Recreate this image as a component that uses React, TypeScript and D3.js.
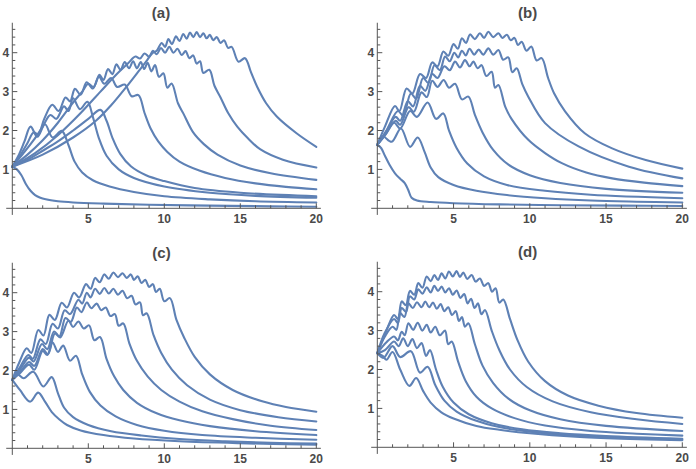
import React from "react";
import * as d3 from "d3";

type Pt = [number, number];

// panel (a): curves, [t, value]
const curvesA: Pt[][] = [
  [[0,1.07],[0.3,1.0],[0.6,0.85],[0.9,0.62],[1.2,0.45],[1.5,0.34],[1.8,0.28],[2.2,0.23],[3,0.18],[4,0.15],[6,0.12],[9,0.09],[13,0.07],[17,0.05],[20,0.04]],
  [[0,1.07],[0.4,1.35],[0.8,1.72],[1.2,2.1],[1.65,1.84],[2.15,2.16],[2.65,1.82],[3.25,1.99],[3.7,1.62],[4.1,1.2],[4.6,0.92],[5.3,0.72],[6.4,0.56],[8,0.42],[10,0.31],[13,0.23],[16,0.18],[20,0.15]],
  [[0,1.07],[0.7,1.4],[1.4,1.75],[2.0,2.1],[2.5,2.4],[2.9,2.3],[3.4,2.62],[3.7,2.5],[4.0,2.83],[4.45,2.55],[4.94,2.74],[5.3,2.35],[5.7,1.8],[6.2,1.35],[7,1.0],[8,0.78],[10,0.56],[13,0.4],[16,0.32],[20,0.27]],
  [[0,1.07],[1,1.25],[2,1.48],[3,1.72],[4,2.0],[5,2.3],[5.8,2.53],[6.2,2.25],[6.6,1.8],[7.1,1.4],[7.8,1.08],[8.8,0.85],[10,0.7],[12,0.52],[15,0.4],[20,0.31]],
  [[0,1.07],[0.5,1.35],[1.0,1.68],[1.4,1.95],[1.7,1.9],[2.1,2.3],[2.63,2.66],[3.05,2.5],[3.5,2.85],[3.8,2.75],[4.12,3.07],[4.5,2.92],[4.89,3.24],[5.3,3.08],[5.7,3.38],[6.05,3.2],[6.5,3.35],[6.9,3.12],[7.4,3.18],[7.85,2.88],[8.3,2.91],[8.7,2.45],[9.1,2.05],[9.6,1.72],[10.2,1.45],[11,1.2],[12.3,0.97],[14,0.78],[16,0.64],[18,0.55],[20,0.49]],
  [[0,1.07],[1,1.38],[2,1.75],[3,2.2],[4,2.72],[4.6,3.0],[5.0,3.2],[5.35,3.12],[5.73,3.43],[6.0,3.3],[6.3,3.58],[6.58,3.45],[6.85,3.7],[7.12,3.56],[7.4,3.76],[7.68,3.6],[7.95,3.78],[8.2,3.6],[8.45,3.76],[8.68,3.58],[8.9,3.74],[9.15,3.52],[9.39,3.68],[9.65,3.38],[9.94,3.47],[10.2,3.1],[10.48,3.21],[10.9,2.7],[11.25,2.44],[11.9,1.95],[12.6,1.65],[13.5,1.38],[15,1.1],[17,0.9],[20,0.73]],
  [[0,1.07],[1.5,1.42],[3,1.88],[4.5,2.45],[5.8,3.0],[6.8,3.42],[7.6,3.72],[8.1,3.9],[8.4,3.85],[8.7,3.98],[9.0,3.9],[9.25,4.05],[9.5,3.96],[9.78,4.12],[10.05,4.0],[10.33,4.15],[10.6,4.0],[10.87,4.1],[11.14,3.94],[11.4,4.04],[11.65,3.86],[11.9,3.93],[12.13,3.72],[12.35,3.78],[12.57,3.48],[12.96,3.56],[13.3,3.15],[13.7,2.85],[14.2,2.45],[14.8,2.1],[15.5,1.8],[16.3,1.52],[17.8,1.25],[20,1.05]],
  [[0,1.07],[2,1.38],[4,1.82],[5.5,2.25],[6.5,2.65],[7.5,3.12],[8.3,3.52],[8.8,3.77],[9.2,3.98],[9.5,4.05],[9.83,4.25],[10.05,4.15],[10.27,4.35],[10.5,4.22],[10.77,4.42],[11.0,4.3],[11.25,4.48],[11.47,4.36],[11.69,4.52],[11.91,4.4],[12.13,4.53],[12.35,4.4],[12.57,4.5],[12.78,4.37],[13.0,4.46],[13.22,4.32],[13.45,4.4],[13.7,4.25],[13.93,4.32],[14.2,4.12],[14.43,4.15],[14.88,3.77],[15.31,3.86],[15.7,3.5],[16.1,3.13],[16.7,2.7],[17.4,2.36],[18.7,1.93],[20,1.58]],
];

// panel (b)
const curvesB: Pt[][] = [
  [[0,1.63],[0.25,1.55],[0.5,1.35],[0.8,1.12],[1.16,0.9],[1.5,0.76],[1.8,0.65],[2.03,0.47],[2.25,0.27],[2.6,0.2],[3.5,0.16],[5,0.13],[8,0.1],[12,0.08],[16,0.07],[20,0.06]],
  [[0,1.63],[0.35,1.85],[0.94,1.71],[1.55,2.05],[2.15,1.58],[2.65,1.82],[3.1,1.45],[3.5,1.05],[4,0.8],[5,0.6],[6.5,0.45],[8.5,0.34],[11,0.26],[14,0.2],[17,0.17],[20,0.15]],
  [[0,1.63],[0.5,1.88],[1.1,2.2],[1.5,2.05],[2.15,2.5],[2.6,2.35],[3.3,2.72],[3.85,2.3],[4.33,2.44],[4.7,2.0],[5.2,1.55],[5.9,1.15],[7,0.82],[8.5,0.6],[11,0.45],[14,0.35],[20,0.26]],
  [[0,1.63],[0.55,1.9],[1.2,2.25],[1.5,2.15],[2.05,2.6],[2.4,2.48],[2.9,2.98],[3.25,2.86],[3.6,3.28],[3.95,3.12],[4.35,3.3],[4.7,3.1],[5.1,3.2],[5.55,2.8],[5.97,2.87],[6.4,2.4],[6.9,1.95],[7.6,1.5],[8.6,1.12],[10,0.85],[12,0.65],[15,0.5],[20,0.4]],
  [[0,1.63],[0.55,1.95],[1.2,2.35],[1.5,2.25],[2.0,2.75],[2.35,2.62],[2.8,3.15],[3.15,3.02],[3.6,3.45],[3.95,3.35],[4.4,3.65],[4.75,3.55],[5.1,3.77],[5.42,3.62],[5.75,3.81],[6.05,3.65],[6.3,3.77],[6.58,3.6],[6.84,3.68],[7.15,3.4],[7.5,3.51],[7.72,3.1],[7.94,3.17],[8.4,2.6],[8.8,2.3],[9.9,1.76],[11,1.42],[12.1,1.16],[13.7,0.92],[15.4,0.77],[17.5,0.66],[20,0.57]],
  [[0,1.63],[0.6,2.0],[1.35,2.5],[1.7,2.38],[2.2,2.95],[2.55,2.82],[3.0,3.35],[3.35,3.22],[3.75,3.68],[4.1,3.55],[4.45,3.9],[4.75,3.78],[5.05,4.0],[5.3,3.88],[5.55,4.05],[5.8,3.93],[6.05,4.1],[6.35,3.95],[6.65,4.08],[6.95,3.95],[7.28,4.11],[7.6,3.95],[7.94,4.07],[8.25,3.82],[8.59,3.88],[8.85,3.5],[9.14,3.6],[9.5,3.2],[9.9,2.87],[11.0,2.19],[13.2,1.59],[16.5,1.07],[20,0.77]],
  [[0,1.63],[0.5,2.1],[1.16,2.63],[1.45,2.5],[1.92,3.08],[2.3,2.95],[2.8,3.45],[3.2,3.35],[3.6,3.75],[3.95,3.65],[4.33,4.03],[4.65,3.92],[5.0,4.22],[5.28,4.1],[5.55,4.37],[5.82,4.25],[6.08,4.47],[6.4,4.35],[6.73,4.5],[7.0,4.38],[7.28,4.54],[7.6,4.4],[7.94,4.5],[8.2,4.38],[8.5,4.46],[8.75,4.32],[9.0,4.38],[9.22,4.2],[9.47,4.28],[9.78,4.05],[10.1,4.16],[10.45,3.8],[10.78,3.86],[11.2,3.35],[11.6,2.95],[12.3,2.5],[13.6,1.93],[15.4,1.54],[17.6,1.24],[20,1.02]],
];

// panel (c)
const curvesC: Pt[][] = [
  [[0,1.76],[0.5,1.5],[1.17,1.2],[1.7,1.43],[2.15,1.2],[2.6,0.93],[3.1,0.74],[3.6,0.6],[4.5,0.46],[6,0.34],[8,0.25],[11,0.18],[15,0.13],[20,0.09]],
  [[0,1.76],[0.35,1.9],[0.75,1.8],[1.38,1.97],[2.04,1.59],[2.59,1.83],[3.0,1.42],[3.4,1.05],[4,0.8],[5,0.6],[6.5,0.44],[8.5,0.33],[11,0.24],[14,0.18],[17,0.14],[20,0.12]],
  [[0,1.76],[0.55,1.95],[1.1,2.15],[1.45,2.02],[2.0,2.5],[2.3,2.4],[2.65,2.72],[3.0,2.48],[3.35,2.64],[3.8,2.25],[4.19,2.38],[4.6,1.9],[5.1,1.45],[5.8,1.1],[6.8,0.82],[8.2,0.6],[10,0.45],[12.5,0.34],[16,0.27],[20,0.22]],
  [[0,1.76],[0.55,1.98],[1.1,2.22],[1.45,2.12],[2.0,2.55],[2.35,2.42],[2.8,2.95],[3.15,2.85],[3.69,3.28],[4.0,3.12],[4.35,3.26],[4.7,3.08],[5.05,3.16],[5.4,2.78],[5.77,2.86],[6.2,2.3],[6.7,1.85],[7.3,1.5],[8.2,1.17],[9.5,0.9],[11,0.72],[13,0.57],[16,0.44],[20,0.34]],
  [[0,1.76],[0.55,2.05],[1.1,2.33],[1.4,2.23],[1.95,2.68],[2.3,2.55],[2.75,3.0],[3.1,2.88],[3.5,3.35],[3.85,3.25],[4.25,3.62],[4.55,3.5],[4.9,3.75],[5.2,3.6],[5.55,3.72],[5.85,3.55],[6.15,3.62],[6.45,3.4],[6.75,3.45],[7.0,3.15],[7.3,3.21],[7.7,2.7],[8.2,2.25],[8.9,1.85],[9.8,1.5],[11,1.2],[12.5,0.95],[14.5,0.75],[17,0.58],[20,0.47]],
  [[0,1.76],[0.5,2.08],[1.05,2.4],[1.35,2.3],[1.85,2.8],[2.2,2.68],[2.65,3.2],[3.0,3.08],[3.45,3.55],[3.8,3.45],[4.35,3.82],[4.6,3.72],[4.9,4.0],[5.15,3.88],[5.45,4.1],[5.75,3.97],[6.05,4.12],[6.35,3.98],[6.65,4.1],[6.95,3.95],[7.25,4.05],[7.55,3.86],[7.85,3.92],[8.1,3.7],[8.4,3.75],[8.6,3.42],[8.84,3.47],[9.3,2.9],[9.8,2.45],[10.5,2.02],[11.5,1.62],[13,1.25],[15,0.98],[17.5,0.8],[20,0.69]],
  [[0,1.76],[0.45,2.2],[0.95,2.57],[1.25,2.45],[1.71,3.04],[2.05,2.9],[2.44,3.43],[2.8,3.3],[3.25,3.74],[3.6,3.62],[4.06,4.0],[4.4,3.88],[4.85,4.22],[5.15,4.1],[5.45,4.38],[5.75,4.27],[6.05,4.47],[6.35,4.36],[6.65,4.52],[6.95,4.4],[7.25,4.5],[7.52,4.38],[7.8,4.47],[8.0,4.33],[8.25,4.42],[8.5,4.25],[8.75,4.33],[9.0,4.15],[9.25,4.22],[9.45,4.02],[9.7,4.1],[10.0,3.78],[10.37,3.86],[10.8,3.3],[11.3,2.85],[12,2.35],[13,1.9],[14.5,1.5],[16.5,1.2],[18,1.06],[20,0.94]],
];

// panel (d)
const curvesD: Pt[][] = [
  [[0,2.42],[0.35,2.35],[0.6,2.25],[1.0,2.45],[1.5,2.0],[2.1,1.58],[2.55,1.78],[3.0,1.45],[3.5,1.15],[4.2,0.9],[5,0.74],[6.5,0.55],[8,0.45],[10,0.36],[13,0.27],[16,0.22],[20,0.18]],
  [[0,2.42],[0.4,2.3],[1.0,2.6],[1.5,2.32],[2.2,2.47],[2.8,1.92],[3.3,2.07],[3.8,1.6],[4.4,1.2],[5.2,0.92],[6.5,0.68],[8,0.52],[10,0.4],[13,0.3],[16,0.25],[20,0.2]],
  [[0,2.42],[0.5,2.5],[1.1,2.72],[1.4,2.6],[1.7,2.8],[2.0,2.6],[2.3,2.78],[2.6,2.55],[2.9,2.68],[3.2,2.35],[3.45,2.5],[3.85,2.0],[4.3,1.55],[5,1.15],[6,0.85],[7.5,0.62],[9.5,0.46],[12,0.36],[15,0.29],[20,0.22]],
  [[0,2.42],[0.6,2.7],[1.1,2.85],[1.35,2.75],[1.6,2.97],[1.8,2.88],[2.04,3.19],[2.35,3.02],[2.65,3.2],[2.95,3.0],[3.24,3.15],[3.5,2.95],[3.8,3.1],[4.1,2.88],[4.44,3.0],[4.65,2.65],[4.88,2.72],[5.3,2.2],[5.8,1.7],[6.5,1.3],[7.5,1.0],[9,0.75],[11,0.56],[14,0.42],[17,0.35],[20,0.3]],
  [[0,2.42],[0.5,2.85],[1.0,3.1],[1.25,3.02],[1.5,3.45],[1.78,3.35],[2.04,3.7],[2.33,3.58],[2.6,3.73],[2.9,3.6],[3.15,3.75],[3.4,3.6],[3.65,3.72],[3.9,3.56],[4.15,3.68],[4.4,3.5],[4.65,3.6],[4.9,3.4],[5.15,3.5],[5.35,3.25],[5.55,3.35],[5.75,3.1],[5.97,3.19],[6.4,2.65],[6.9,2.1],[7.6,1.65],[8.6,1.25],[10,0.95],[12,0.72],[15,0.55],[20,0.42]],
  [[0,2.42],[0.5,2.95],[1.1,3.3],[1.35,3.2],[1.6,3.58],[1.88,3.48],[2.14,3.88],[2.42,3.8],[2.69,4.06],[2.96,3.95],[3.24,4.11],[3.5,3.98],[3.74,4.15],[3.98,4.02],[4.22,4.13],[4.46,3.98],[4.7,4.09],[4.95,3.92],[5.2,4.03],[5.45,3.84],[5.7,3.94],[5.92,3.7],[6.15,3.82],[6.38,3.58],[6.6,3.7],[6.83,3.42],[7.06,3.53],[7.5,3.0],[8,2.5],[8.7,2.0],[9.8,1.55],[11.5,1.18],[14,0.9],[17,0.72],[20,0.6]],
  [[0,2.42],[0.6,3.0],[1.1,3.4],[1.35,3.3],[1.6,3.75],[1.87,3.65],[2.14,4.02],[2.42,3.92],[2.69,4.22],[2.96,4.1],[3.24,4.39],[3.5,4.27],[3.74,4.43],[3.98,4.3],[4.22,4.47],[4.46,4.34],[4.7,4.52],[4.95,4.39],[5.2,4.53],[5.42,4.38],[5.64,4.49],[5.9,4.33],[6.19,4.43],[6.45,4.26],[6.73,4.34],[7.0,4.15],[7.28,4.22],[7.52,4.0],[7.76,4.09],[8.0,3.72],[8.26,3.8],[8.7,3.3],[9.2,2.75],[9.9,2.2],[11,1.7],[12.5,1.33],[14.5,1.07],[17,0.88],[20,0.76]],
];

const panelCurves = [curvesA, curvesB, curvesC, curvesD];
const panelTitles = ["(a)", "(b)", "(c)", "(d)"];
const xMajorTicks = [5, 10, 15, 20];
const xMinorTicks = d3.range(1, 20).filter((t) => t % 5 !== 0);
const yMajorTicks = [1, 2, 3, 4];
const yMinorTicks = d3.range(1, 24).map((i) => i / 5).filter((t) => Math.abs(t - Math.round(t)) > 1e-6);

// pixel placement of each panel's origin
const panelOrigins = [
  { left: 12.3, bottom: 208.3, titleX: 161, pxPerX: 15.2 },
  { left: 377.3, bottom: 208.3, titleX: 527.7, pxPerX: 15.25 },
  { left: 12.3, bottom: 448.3, titleX: 161.5, pxPerX: 15.2 },
  { left: 377.3, bottom: 447.3, titleX: 527.7, pxPerX: 15.25 },
];
const pxPerY = 38.9;

const LINE = "#5E81B5";
const AXIS = "#555555";
const FONT = "'Liberation Sans', Arial, sans-serif";

function Panel({ idx }: { idx: number }) {
  const o = panelOrigins[idx];
  const x = d3.scaleLinear().domain([0, 20]).range([o.left, o.left + 20 * o.pxPerX]);
  const y = d3.scaleLinear().domain([0, 4]).range([o.bottom, o.bottom - 4 * pxPerY]);
  const line = d3
    .line<Pt>()
    .x((d) => x(d[0]))
    .y((d) => y(d[1]))
    .curve(d3.curveCatmullRom.alpha(0.5));

  return (
    <g>
      {/* curves */}
      <g fill="none" stroke={LINE} strokeWidth={2.1} strokeLinejoin="round" strokeLinecap="round">
        {panelCurves[idx].map((c, i) => (
          <path key={i} d={line(c) || ""} />
        ))}
      </g>
      {/* axes */}
      <g stroke={AXIS} strokeWidth={1}>
        <line x1={x(-0.4)} x2={x(20.3)} y1={y(0)} y2={y(0)} />
        <line x1={x(0)} x2={x(0)} y1={y(-0.17)} y2={y(4.77)} />
        {xMajorTicks.map((t) => (
          <line key={"xM" + t} x1={x(t)} x2={x(t)} y1={y(0)} y2={y(0) - 5} />
        ))}
        {xMinorTicks.map((t) => (
          <line key={"xm" + t} x1={x(t)} x2={x(t)} y1={y(0)} y2={y(0) - 3} />
        ))}
        {yMajorTicks.map((t) => (
          <line key={"yM" + t} x1={x(0)} x2={x(0) + 5} y1={y(t)} y2={y(t)} />
        ))}
        {yMinorTicks.map((t) => (
          <line key={"ym" + t} x1={x(0)} x2={x(0) + 3} y1={y(t)} y2={y(t)} />
        ))}
      </g>
      <g fill="#4a4a4a" fontFamily={FONT} fontSize={12} fontWeight="bold">
        {xMajorTicks.map((t) => (
          <text key={"xl" + t} x={x(t)} y={y(0) + 14.3} textAnchor="middle">
            {t}
          </text>
        ))}
        {yMajorTicks.map((t) => (
          <text key={"yl" + t} x={x(0) - 3} y={y(t) + 4.3} textAnchor="end">
            {t}
          </text>
        ))}
      </g>
      <text
        x={o.titleX}
        y={o.bottom - 190.6}
        textAnchor="middle"
        fontFamily={FONT}
        fontSize={15}
        fontWeight="bold"
        fill="#4a4a4a"
      >
        {panelTitles[idx]}
      </text>
    </g>
  );
}

export default function App() {
  return (
    <svg
      width={696}
      height={469}
      style={{ position: "absolute", left: 0, top: 0, background: "#fff" }}
    >
      {panelTitles.map((_, i) => (
        <Panel key={i} idx={i} />
      ))}
    </svg>
  );
}
